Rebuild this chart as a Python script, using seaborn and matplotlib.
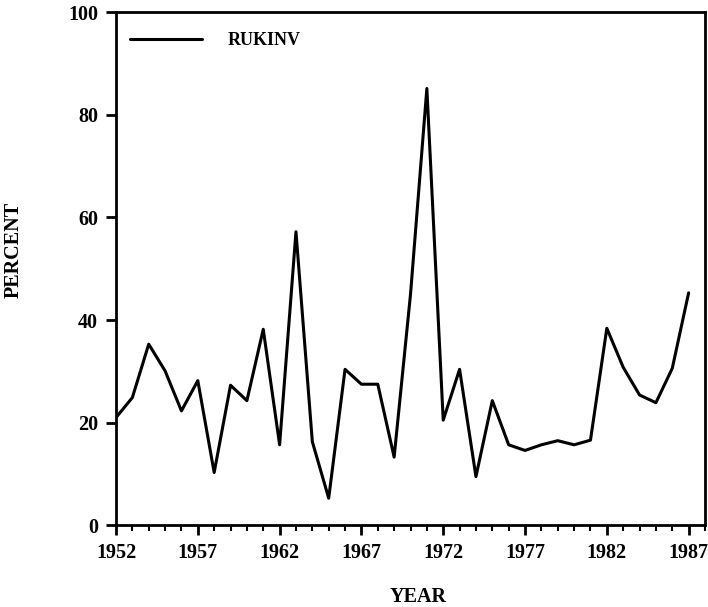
import matplotlib
matplotlib.use("Agg")
import matplotlib.pyplot as plt
import seaborn as sns
import pandas as pd
import numpy as np
from matplotlib.ticker import MultipleLocator, FixedLocator

years = list(range(1952, 1988))
rukinv = [21.0, 24.9, 35.3, 30.1, 22.3, 28.2, 10.3, 27.3, 24.3, 38.2,
          15.7, 57.2, 16.3, 5.3, 30.4, 27.5, 27.5, 13.3, 45.0, 85.1,
          20.5, 30.4, 9.5, 24.3, 15.7, 14.6, 15.7, 16.5, 15.7, 16.6,
          38.4, 30.8, 25.4, 23.9, 30.6, 45.3]
series_name = "RUKINV"
x_ticks = [1952, 1957, 1962, 1967, 1972, 1977, 1982, 1987]
y_ticks = [0, 20, 40, 60, 80, 100]

df = pd.DataFrame({"YEAR": years, "PERCENT": rukinv})

sns.set_style("ticks")
plt.rcParams["font.family"] = ["Liberation Serif", "DejaVu Serif"]
plt.rcParams["font.weight"] = "bold"
plt.rcParams["text.color"] = "black"
plt.rcParams["axes.labelcolor"] = "black"
plt.rcParams["xtick.color"] = "black"
plt.rcParams["ytick.color"] = "black"

fig = plt.figure(figsize=(7.08, 6.07), dpi=100)
ax = fig.add_axes([116/708, 1 - 525.4/607, (705-116)/708, (525.4-12)/607])

sns.lineplot(data=df, x="YEAR", y="PERCENT", ax=ax, color="black",
             linewidth=2.2, label=series_name)

ax.set_xlim(1952, 1988)
ax.set_ylim(0, 100)
ax.xaxis.set_major_locator(FixedLocator(x_ticks))
ax.xaxis.set_minor_locator(MultipleLocator(1))
ax.yaxis.set_major_locator(FixedLocator(y_ticks))
ax.set_xticklabels([str(t) for t in x_ticks])
ax.set_yticklabels([str(t) for t in y_ticks])

for s in ax.spines.values():
    s.set_visible(True)
    s.set_linewidth(2)
    s.set_color("black")

ax.tick_params(axis="both", which="major", direction="out", length=7, width=2,
               labelsize=14.5, colors="black", pad=6)
ax.tick_params(axis="x", which="minor", direction="out", length=4, width=1.5,
               colors="black")
for lbl in ax.get_xticklabels() + ax.get_yticklabels():
    lbl.set_fontweight("bold")
    lbl.set_color("black")

ax.set_xlabel("")
ax.set_ylabel("")
fig.text(418/708, 1 - 597/607, "YEAR", ha="center", va="center",
         fontsize=14.5, fontweight="bold", color="black")
fig.text(14/708, 1 - 250/607, "PERCENT", ha="center", va="center",
         rotation=90, fontsize=14.5, fontweight="bold", color="black")

leg = ax.legend(loc="upper left", bbox_to_anchor=((130-116)/589, 1 - (41-12-9)/513.4),
                frameon=False, handlelength=4.0, handletextpad=1.4,
                borderaxespad=0, borderpad=0, prop={"size": 13, "weight": "bold"})
for t in leg.get_texts():
    t.set_color("black")
for line in leg.get_lines():
    line.set_linewidth(2.2)

fig.savefig("out.png", dpi=100, facecolor="white")
